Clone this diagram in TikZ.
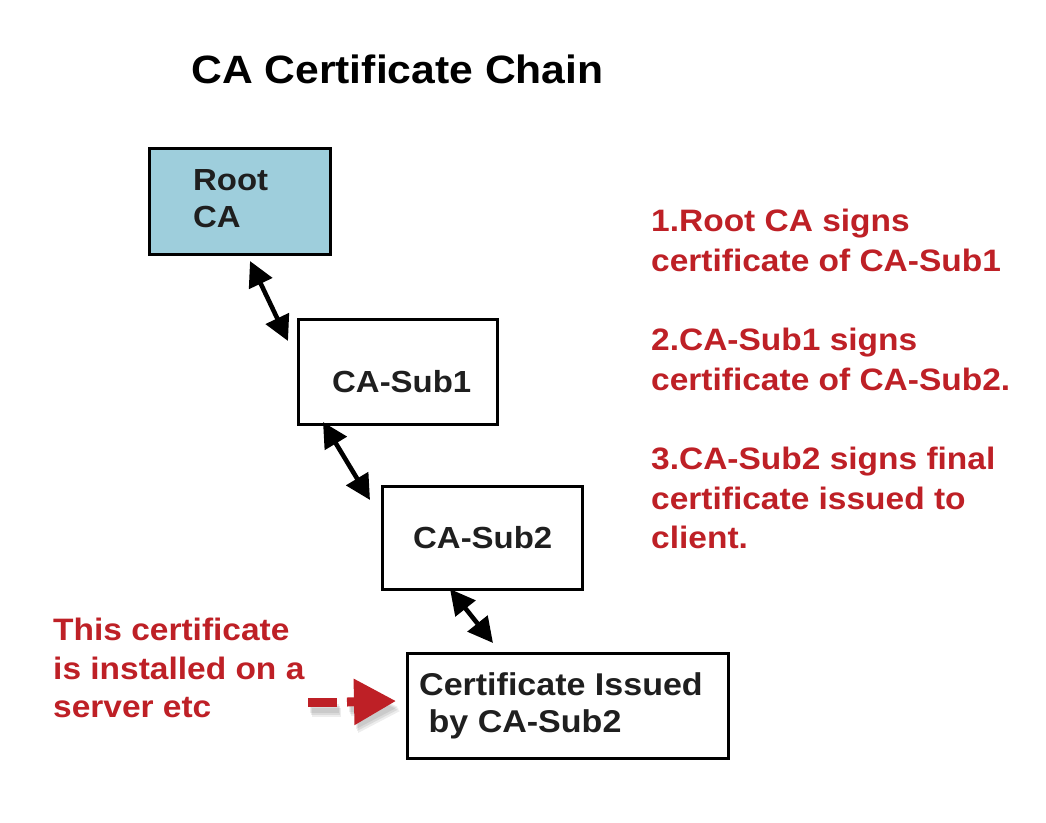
\documentclass[tikz,border=0pt]{standalone}
\usepackage{fontspec}
\setmainfont{Liberation Sans}
\newfontfamily\widesans[FakeStretch=1.08]{Liberation Sans}
\usetikzlibrary{arrows.meta,calc}
\definecolor{rootblue}{RGB}{158,206,220}
\definecolor{notered}{RGB}{190,32,38}
\tikzset{
  certbox/.style={draw=black,line width=2.6pt,inner sep=0pt,anchor=north west},
  boxtext/.style={font=\widesans\fontsize{30.5}{37}\selectfont\bfseries,text=black!88,anchor=west,align=left,inner sep=0pt},
  notetext/.style={font=\widesans\fontsize{31}{39.5}\selectfont\bfseries,text=notered,anchor=north west,align=left,inner sep=0pt},
  chainarrow/.style={line width=4.6pt,{Triangle[length=25pt,width=25pt]}-{Triangle[length=25pt,width=25pt]}},
}
\begin{document}
\begin{tikzpicture}[x=1pt,y=-1pt]
\useasboundingbox[fill=white] (0,0) rectangle (1046,822);
% title
\node[font=\widesans\fontsize{39.5}{44}\selectfont\bfseries,anchor=west,inner sep=0pt] (title) at (191,69) {CA Certificate Chain};
% boxes
\node[certbox,fill=rootblue,minimum width=181pt,minimum height=106pt] (root) at (148,147) {};
\node[boxtext] (roottxt) at (193,199) {Root\\CA};
\node[certbox,minimum width=199pt,minimum height=105pt] (sub1) at (297,318) {};
\node[boxtext] (sub1txt) at (332,382) {CA-Sub1};
\node[certbox,minimum width=200pt,minimum height=103pt] (sub2) at (381,485) {};
\node[boxtext] (sub2txt) at (413,538) {CA-Sub2};
\node[certbox,minimum width=321pt,minimum height=105pt] (leaf) at (406,652) {};
\node[boxtext,font=\widesans\fontsize{31.5}{37}\selectfont\bfseries] (leaftxt) at (419,706) {Certificate Issued\\\ by CA-Sub2};
% chain arrows
\coordinate (a1) at (250,261);
\coordinate (b1) at (288,341);
\coordinate (a2) at (323,422);
\coordinate (b2) at (370,500);
\coordinate (a3) at (450,589);
\coordinate (b3) at (493,643);
\draw[chainarrow] (a1) -- (b1);
\draw[chainarrow] (a2) -- (b2);
\draw[chainarrow] (a3) -- (b3);
% notes
\node[notetext] (note1) at (651,209) {1.Root CA signs\\certificate of CA-Sub1};
\node[notetext] (note2) at (651,328) {2.CA-Sub1 signs\\certificate of CA-Sub2.};
\node[notetext] (note3) at (651,447) {3.CA-Sub2 signs final\\certificate issued to\\client.};
\node[notetext,font=\widesans\fontsize{31}{38.5}\selectfont\bfseries] (note4) at (53,618) {This certificate\\is installed on a\\server etc};
% red pointer with soft shadow
\coordinate (pstart) at (308,702);
\coordinate (ptip) at (396,701);
\foreach \dx/\dy/\op in {2/6/0.07,3/8/0.08,4/10/0.07} {
  \fill[black,opacity=\op] (308+\dx,698+\dy) rectangle (337+\dx,707+\dy);
  \fill[black,opacity=\op] (347+\dx,697+\dy) -- (354+\dx,697+\dy) -- (354+\dx,680+\dy) -- (396+\dx,701+\dy) -- (354+\dx,723+\dy) -- (354+\dx,706+\dy) -- (347+\dx,706+\dy) -- cycle;
}
\draw[notered,line width=9pt] (pstart) -- ++(29,0);
\draw[notered,line width=9pt,-{Triangle[length=42pt,width=44pt]}] ($(pstart)+(39,0)$) -- (ptip);
\end{tikzpicture}
\end{document}
